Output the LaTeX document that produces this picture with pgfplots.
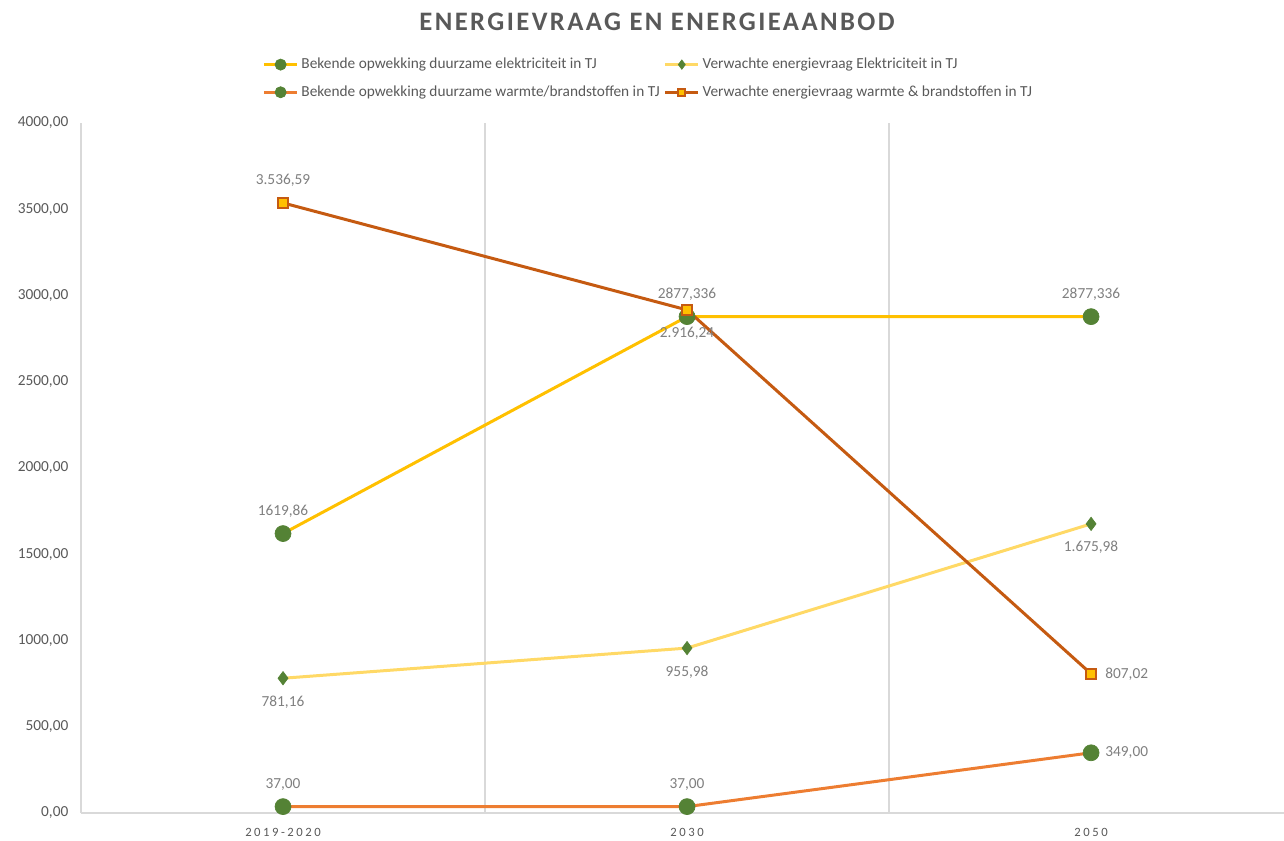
\documentclass[border=0pt]{standalone}
\usepackage{fontspec}
\setmainfont{Carlito}
\usepackage{pgfplots}
\pgfplotsset{compat=1.18}
\usepackage{pgfplotstable}

\definecolor{cGold}{HTML}{FFC000}
\definecolor{cLight}{HTML}{FFD966}
\definecolor{cOrange}{HTML}{ED7D31}
\definecolor{cDark}{HTML}{C55A11}
\definecolor{cGreen}{HTML}{548235}
\definecolor{cGrid}{HTML}{D9D9D9}
\definecolor{cText}{HTML}{595959}
\definecolor{cLabel}{HTML}{7F7F7F}

% x: 0 = 2019-2020, 1 = 2030, 2 = 2050
\pgfplotstableread{
x y
0 1619.86
1 2877.336
2 2877.336
}\elek
\pgfplotstableread{
x y
0 781.16
1 955.98
2 1675.98
}\vraagelek
\pgfplotstableread{
x y
0 37.00
1 37.00
2 349.00
}\warmte
\pgfplotstableread{
x y
0 3536.59
1 2916.24
2 807.02
}\vraagwarmte

% data labels, grouped by where they sit
\pgfplotstableread{
x y lab
0 1619.86 1619,86
1 2877.336 2877,336
2 2877.336 2877,336
0 37.00 37,00
1 37.00 37,00
0 3536.59 3.536,59
}\lababove
\pgfplotstableread{
x y lab
0 781.16 781,16
1 955.98 955,98
2 1675.98 1.675,98
1 2916.24 2.916,24
}\labbelow
\pgfplotstableread{
x y lab
2 349.00 349,00
2 807.02 807,02
}\labright

\pgfplotsset{
  datalabels/.style 2 args={
    only marks, mark=none, forget plot,
    nodes near coords,
    point meta=explicit symbolic,
    every node near coord/.append style={anchor=#1, inner sep=#2, text=cLabel, font=\fontsize{11.5}{13}\selectfont},
  },
}

\begin{document}
\begin{tikzpicture}
\useasboundingbox (0,0) rectangle (963pt,630.75pt);
\node[font=\bfseries\fontsize{20}{22}\selectfont\addfontfeature{LetterSpace=9}, text=cText]
  at (492.75pt,614.25pt) {ENERGIEVRAAG EN ENERGIEAANBOD};
\begin{axis}[
  at={(60.75pt,21pt)}, anchor=south west,
  scale only axis,
  width=903pt, height=517.5pt,
  xmin=-0.5, xmax=2.48,
  ymin=0, ymax=4000,
  clip=false,
  axis x line*=bottom, axis y line*=left,
  axis line style={cGrid, line width=1.5pt, -},
  xtick={0,1,2},
  xticklabels={2019-2020,2030,2050},
  minor xtick={0.5,1.5},
  minor x grid style={cGrid, line width=1.5pt},
  xminorgrids=true,
  ytick={0,500,...,4000},
  major tick length=0pt, minor tick length=0pt,
  tick label style={text=cText},
  xticklabel style={font=\fontsize{9.5}{11}\selectfont\addfontfeature{LetterSpace=20}, yshift=-8pt},
  yticklabel style={font=\fontsize{11.5}{13}\selectfont, xshift=-6pt},
  /pgf/number format/assume math mode=true,
  yticklabel={\pgfmathprintnumber[fixed, fixed zerofill, precision=2, use comma, 1000 sep={}]{\tick}},
  legend columns=2,
  legend cell align=left,
  legend style={at={(0.1505,1.098)}, anchor=north west, draw=none, fill=none,
    font=\fontsize{11.5}{13}\selectfont, text=cText, inner sep=0pt,
    nodes={inner sep=2pt},
    /tikz/every even column/.append style={column sep=1pt}, row sep=7.25pt},
  legend image code/.code={\draw[mark repeat=2, mark phase=2, every mark/.append style={scale=0.7}] plot coordinates {(0pt,0pt) (12.5pt,0pt) (25pt,0pt)};},
]
\addplot[cGold, line width=2.25pt, mark=*, mark size=6pt, mark options={fill=cGreen, draw=cGreen, line width=0.5pt}]
  table[x=x, y=y] {\elek};
\addlegendentry{Bekende opwekking duurzame elektriciteit in TJ}
\addplot[cLight, line width=2.25pt, mark=diamond*, mark size=5pt, mark options={fill=cGreen, draw=cGreen, line width=0.5pt}]
  table[x=x, y=y] {\vraagelek};
\addlegendentry{Verwachte energievraag Elektriciteit in TJ}
\addplot[cOrange, line width=2.25pt, mark=*, mark size=6pt, mark options={fill=cGreen, draw=cGreen, line width=0.5pt}]
  table[x=x, y=y] {\warmte};
\addlegendentry{Bekende opwekking duurzame warmte/brandstoffen in TJ}
\addplot[cDark, line width=2.25pt, mark=square*, mark size=3.8pt, mark options={fill=cGold, draw=cDark, line width=1.5pt}]
  table[x=x, y=y] {\vraagwarmte};
\addlegendentry{Verwachte energievraag warmte \& brandstoffen in TJ}

\addplot[datalabels={south}{12pt}] table[x=x, y=y, meta=lab] {\lababove};
\addplot[datalabels={north}{13pt}] table[x=x, y=y, meta=lab] {\labbelow};
\addplot[datalabels={west}{10.5pt}] table[x=x, y=y, meta=lab] {\labright};
\end{axis}
\end{tikzpicture}
\end{document}
